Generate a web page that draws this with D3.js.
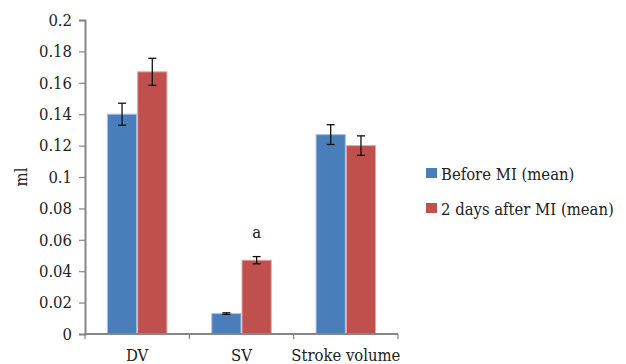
<!DOCTYPE html>
<html>
<head>
<meta charset="utf-8">
<script src="https://cdn.jsdelivr.net/npm/d3@7"></script>
<style>
  body { margin: 0; background: #fff; }
  svg text { font-family: "DejaVu Serif Condensed", "DejaVu Serif", serif; font-stretch: condensed; fill: #222; }
</style>
</head>
<body>
<div id="chart"></div>
<script>
var categories = ["DV", "SV", "Stroke volume"];
var seriesNames = ["Before MI (mean)", "2 days after MI (mean)"];
var beforeMI = [0.140, 0.013, 0.127];
var afterMI = [0.167, 0.047, 0.120];
var beforeErr = [0.007, 0.0005, 0.0063];
var afterErr = [0.0086, 0.0023, 0.0062];
var yTicks = [0, 0.02, 0.04, 0.06, 0.08, 0.1, 0.12, 0.14, 0.16, 0.18, 0.2];
var colors = ["#4a7ebb", "#c0504d"];
var edges = ["#a9c1e2", "#e4a9a8"];

var width = 626, height = 364;
var margin = { left: 85, top: 20 };
var plotW = 313, plotH = 314;
var fs = "16.5px";

var svg = d3.select("#chart").append("svg")
  .attr("width", width)
  .attr("height", height);

var x = d3.scaleBand()
  .domain(categories)
  .range([margin.left, margin.left + plotW])
  .paddingInner(0.42)
  .paddingOuter(0.21);

var x1 = d3.scaleBand()
  .domain([0, 1])
  .range([0, x.bandwidth()]);

var y = d3.scaleLinear()
  .domain([0, 0.2])
  .range([margin.top + plotH, margin.top]);

var rows = categories.map(function(c, i) {
  return { cat: c, values: [beforeMI[i], afterMI[i]], errs: [beforeErr[i], afterErr[i]] };
});

// bars
var groups = svg.selectAll(".grp")
  .data(rows)
  .enter().append("g")
  .attr("transform", function(d) { return "translate(" + x(d.cat) + ",0)"; });

groups.selectAll("rect")
  .data(function(d) { return d.values.map(function(v, k) { return { k: k, v: v }; }); })
  .enter().append("rect")
  .attr("x", function(d) { return x1(d.k) + 0.5; })
  .attr("y", function(d) { return y(d.v); })
  .attr("width", x1.bandwidth() - 1)
  .attr("height", function(d) { return y(0) - y(d.v); })
  .attr("fill", function(d) { return colors[d.k]; })
  .attr("stroke", function(d) { return edges[d.k]; })
  .attr("stroke-width", 1);

// error bars
var eb = groups.selectAll(".err")
  .data(function(d) { return d.values.map(function(v, k) { return { k: k, v: v, e: d.errs[k] }; }); })
  .enter().append("g")
  .attr("stroke", "#111")
  .attr("stroke-width", 1.3);

eb.append("line")
  .attr("x1", function(d) { return x1(d.k) + x1.bandwidth() / 2; })
  .attr("x2", function(d) { return x1(d.k) + x1.bandwidth() / 2; })
  .attr("y1", function(d) { return y(d.v + d.e); })
  .attr("y2", function(d) { return y(d.v - d.e); });

[1, -1].forEach(function(s) {
  eb.append("line")
    .attr("x1", function(d) { return x1(d.k) + x1.bandwidth() / 2 - 4; })
    .attr("x2", function(d) { return x1(d.k) + x1.bandwidth() / 2 + 4; })
    .attr("y1", function(d) { return y(d.v + s * d.e); })
    .attr("y2", function(d) { return y(d.v + s * d.e); });
});

// significance mark
svg.append("text")
  .attr("x", x("SV") + x1(1) + x1.bandwidth() / 2)
  .attr("y", y(0.061))
  .attr("text-anchor", "middle")
  .style("font-size", fs)
  .text("a");

// y axis
var yAxis = svg.append("g")
  .attr("transform", "translate(" + margin.left + ",0)")
  .call(d3.axisLeft(y).tickValues(yTicks).tickSize(6).tickPadding(7)
    .tickFormat(function(d) { return d === 0 ? "0" : String(+d.toFixed(2)); }));
yAxis.select(".domain").attr("stroke", "#868686").attr("stroke-width", 2);
yAxis.selectAll(".tick line").attr("stroke", "#868686").attr("stroke-width", 1.2);
yAxis.selectAll("text").style("font-size", fs).style("font-family", null).attr("fill", "#222");

// x axis with ticks at category boundaries
var xAxis = svg.append("g")
  .attr("transform", "translate(0," + y(0) + ")");
xAxis.append("line")
  .attr("x1", margin.left).attr("x2", margin.left + plotW)
  .attr("stroke", "#868686").attr("stroke-width", 2);
var bounds = categories.map(function(c) { return x(c) - x.step() * x.paddingInner() / 2; })
  .concat([margin.left + plotW]);
xAxis.selectAll(".xt")
  .data(bounds)
  .enter().append("line")
  .attr("x1", function(d) { return d; }).attr("x2", function(d) { return d; })
  .attr("y1", 0).attr("y2", 5)
  .attr("stroke", "#868686").attr("stroke-width", 1.2);
xAxis.selectAll(".xl")
  .data(categories)
  .enter().append("text")
  .attr("x", function(d) { return x(d) + x.bandwidth() / 2; })
  .attr("y", 27)
  .attr("text-anchor", "middle")
  .style("font-size", fs)
  .text(function(d) { return d; });

// y title
svg.append("text")
  .attr("transform", "translate(27," + (margin.top + plotH / 2) + ") rotate(-90)")
  .attr("text-anchor", "middle")
  .style("font-size", fs)
  .text("ml");

// legend
var legend = svg.selectAll(".leg")
  .data(seriesNames)
  .enter().append("g")
  .attr("transform", function(d, i) { return "translate(426," + (168 + i * 35) + ")"; });
legend.append("rect")
  .attr("width", 11).attr("height", 10)
  .attr("fill", function(d, i) { return colors[i]; });
legend.append("text")
  .attr("x", 15).attr("y", 11.5)
  .style("font-size", fs)
  .text(function(d) { return d; });
</script>
</body>
</html>
